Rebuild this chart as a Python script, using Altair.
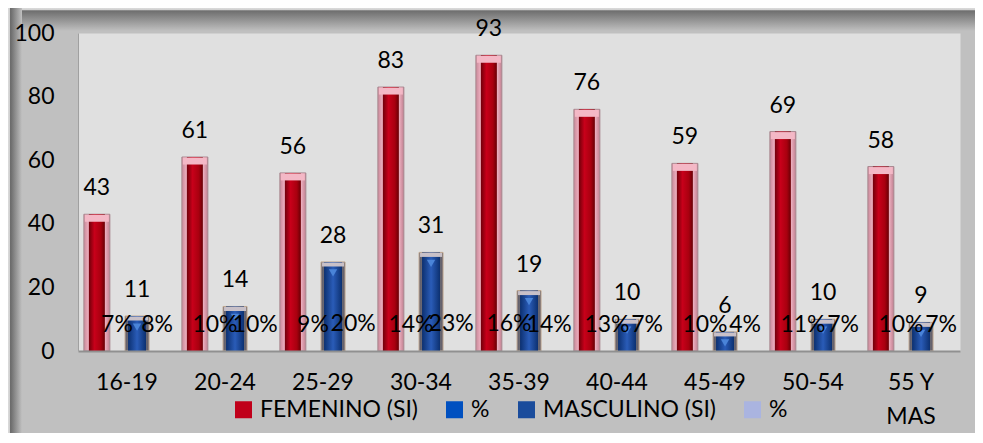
import altair as alt
import pandas as pd

groups = ["16-19", "20-24", "25-29", "30-34", "35-39", "40-44", "45-49", "50-54", "55 Y MAS"]
femenino = [43, 61, 56, 83, 93, 76, 59, 69, 58]
femenino_pct = [7, 10, 9, 14, 16, 13, 10, 11, 10]
masculino = [11, 14, 28, 31, 19, 10, 6, 10, 9]
masculino_pct = [8, 10, 20, 23, 14, 7, 4, 7, 7]
series_names = ["FEMENINO (SI)", "%", "MASCULINO (SI)", "% "]
legend_colors = ["#c0001a", "#0050c0", "#1a4c9c", "#aab4e0"]

rows = []
for i, g in enumerate(groups):
    rows.append({"group": g, "series": series_names[0], "value": femenino[i], "label": str(femenino[i])})
    rows.append({"group": g, "series": series_names[1], "value": femenino_pct[i] / 100, "label": f"{femenino_pct[i]}%"})
    rows.append({"group": g, "series": series_names[2], "value": masculino[i], "label": str(masculino[i])})
    rows.append({"group": g, "series": series_names[3], "value": masculino_pct[i] / 100, "label": f"{masculino_pct[i]}%"})
df = pd.DataFrame(rows)

FONT = "Lato"
FS = 23


def grad(stops, horizontal=True):
    return alt.LinearGradient(
        gradient="linear",
        stops=[alt.GradientStop(color=c, offset=o) for o, c in stops],
        x1=0, y1=0, x2=1 if horizontal else 0, y2=0 if horizontal else 1,
    )


base = alt.Chart(df).encode(
    x=alt.X(
        "group:N", sort=groups, title=None,
        scale=alt.Scale(paddingInner=0.18, paddingOuter=0.09),
        axis=alt.Axis(
            labelAngle=0, ticks=False, domainColor="#909090", domainWidth=2,
            labelFont=FONT, labelFontSize=FS, labelColor="black", labelPadding=20,
            labelLineHeight=34, zindex=1,
            labelExpr="datum.label == '55 Y MAS' ? ['55 Y', 'MAS'] : datum.label",
        ),
    ),
    xOffset=alt.XOffset(
        "series:N", sort=series_names,
        scale=alt.Scale(domain=series_names, paddingInner=0, paddingOuter=0),
    ),
    y=alt.Y(
        "value:Q", title=None, scale=alt.Scale(domain=[0, 100]),
        axis=alt.Axis(
            values=[0, 20, 40, 60, 80, 100], grid=False, ticks=False,
            domainColor="#a0a0a0", domainWidth=1, labelFlush=False, zindex=1,
            labelFont=FONT, labelFontSize=FS, labelColor="black", labelPadding=24,
        ),
    ),
)

fem = base.transform_filter(alt.datum.series == series_names[0])
mas = base.transform_filter(alt.datum.series == series_names[2])

fem_outer = fem.mark_bar(
    width=26, stroke="#a88890", strokeWidth=1,
    fill=grad([(0, "#c88898"), (0.2, "#f2b4c4"), (0.8, "#f2b4c4"), (1, "#c08090")]),
)
fem_inner = fem.mark_bar(
    width=16,
    fill=grad([(0, "#70000a"), (0.35, "#c8001a"), (0.75, "#a8000f"), (1, "#680005")]),
)
fem_cap = fem.mark_tick(size=24, thickness=7, yOffset=4, color="#f4b8c6", opacity=1)
mas_outer = mas.mark_bar(
    width=24, stroke="#c0a890", strokeWidth=1,
    fill=grad([(0, "#5c5a68"), (0.5, "#a09890"), (1, "#5c5a68")]),
)
mas_inner = mas.mark_bar(
    width=18,
    fill=grad([(0, "#0c3070"), (0.5, "#2a5cb8"), (1, "#0c3070")]),
)
mas_cap = mas.mark_tick(size=22, thickness=4, yOffset=2.5, color="#c8c0c8", opacity=1)
mas_chev = mas.mark_point(
    shape="triangle-down", filled=True, color="#4a84d8", size=70, yOffset=11, opacity=1
)

labels = base.mark_text(
    dy=-26, font=FONT, fontSize=FS, baseline="middle", color="black"
).encode(text="label:N")

legend_layer = base.mark_square(opacity=0, size=1).encode(
    color=alt.Color(
        "series:N",
        scale=alt.Scale(domain=series_names, range=legend_colors),
        legend=alt.Legend(
            orient="none", legendX=154, legendY=365, direction="horizontal",
            columns=4, title=None, symbolType="square", symbolSize=289,
            symbolOpacity=1, symbolStrokeWidth=0, labelFont=FONT,
            labelFontSize=FS, labelColor="black", columnPadding=25,
            labelOffset=5, padding=0, labelLimit=400,
        ),
    )
)

deco = alt.Chart(alt.Data(values=[{"k": 1}]))
top_band = deco.mark_rect(
    fill=grad([(0, "#dcdcdc"), (0.08, "#d0d0d0"), (0.12, "#6e6e6e"), (1, "#c0c0c0")], horizontal=False)
).encode(x=alt.value(-70), x2=alt.value(897), y=alt.value(-25), y2=alt.value(-2))
left_band = deco.mark_rect(
    fill=grad([(0, "#dcdcdc"), (0.12, "#d0d0d0"), (0.18, "#6a6a6a"), (1, "#c0c0c0")])
).encode(x=alt.value(-70), x2=alt.value(-56), y=alt.value(-25), y2=alt.value(400))

chart = alt.layer(
    top_band, left_band, fem_outer, fem_inner, fem_cap, mas_outer, mas_inner, mas_cap,
    mas_chev, labels, legend_layer
).properties(
    width=882, height=318,
    padding={"left": 70, "top": 25, "right": 15, "bottom": 82},
    autosize=alt.AutoSizeParams(type="none"),
    background="#c0c0c0",
).configure_view(stroke="transparent", fill="#e0e0e0")

chart.save("out.html", embed_options={"renderer": "svg", "actions": False})
